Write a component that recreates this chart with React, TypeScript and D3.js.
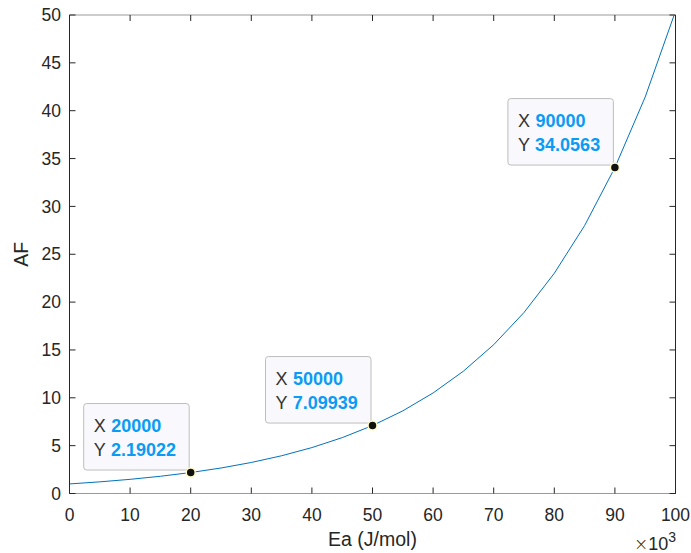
import React from "react";
import * as d3 from "d3";

const eaValues = [0, 5000, 10000, 15000, 20000, 25000, 30000, 35000, 40000, 45000, 50000, 55000, 60000, 65000, 70000, 75000, 80000, 85000, 90000, 95000, 100000];
const afValues = [1, 1.2165, 1.4799, 1.8004, 2.19022, 2.6645, 3.2414, 3.9433, 4.7971, 5.8359, 7.09939, 8.6367, 10.5068, 12.7818, 15.5495, 18.9158, 23.0118, 27.994, 34.0563, 41.43, 50.40];
const xTicks = [0, 10000, 20000, 30000, 40000, 50000, 60000, 70000, 80000, 90000, 100000];
const yTicks = [0, 5, 10, 15, 20, 25, 30, 35, 40, 45, 50];
const tipX = [20000, 50000, 90000];
const tipY = [2.19022, 7.09939, 34.0563];
const tipLabels = ["2.19022", "7.09939", "34.0563"];

const W = 691, H = 553;
const L = 69.5, R = 675.5, T = 15, B = 493.5;

export default function App() {
  const x = d3.scaleLinear().domain([0, 100000]).range([L, R]);
  const y = d3.scaleLinear().domain([0, 50]).range([B, T]);
  const line = d3.line<number>().x((_, i) => x(eaValues[i])).y((d) => y(d));
  const font = "Liberation Sans, Arial, Helvetica, sans-serif";
  const tc = "#262626";
  return (
    <svg width={W} height={H} style={{ position: "absolute", left: 0, top: 0 }} fontFamily={font}>
      <rect x={0} y={0} width={W} height={H} fill="#fff" />
      <defs>
        <clipPath id="pa"><rect x={L} y={T} width={R - L} height={B - T} /></clipPath>
      </defs>
      <path d={line(afValues) || ""} fill="none" stroke="#0072BD" strokeWidth={1} clipPath="url(#pa)" />
      <line x1={L} x2={R} y1={T} y2={T} stroke="#9a9a9a" strokeWidth={1.2} />
      <line x1={L} x2={R} y1={B} y2={B} stroke="#9a9a9a" strokeWidth={1.2} />
      <line x1={L} x2={L} y1={T} y2={B} stroke={tc} strokeWidth={1} />
      <line x1={R} x2={R} y1={T} y2={B} stroke={tc} strokeWidth={1} />
      {xTicks.map((t) => (
        <g key={"x" + t}>
          <line x1={x(t)} x2={x(t)} y1={B} y2={B - 6} stroke={tc} />
          <line x1={x(t)} x2={x(t)} y1={T} y2={T + 6} stroke={tc} />
          <text x={x(t)} y={520.5} textAnchor="middle" fontSize={17.5} fill={tc}>{t / 1000}</text>
        </g>
      ))}
      {yTicks.map((t) => (
        <g key={"y" + t}>
          <line x1={L} x2={L + 6} y1={y(t)} y2={y(t)} stroke={tc} />
          <line x1={R} x2={R - 6} y1={y(t)} y2={y(t)} stroke={tc} />
          <text x={61} y={y(t) + 6.2} textAnchor="end" fontSize={17.5} fill={tc}>{t}</text>
        </g>
      ))}
      <text x={372.5} y={546} textAnchor="middle" fontSize={19.5} fill={tc}>Ea (J/mol)</text>
      <text transform={`translate(28,${(T + B) / 2}) rotate(-90)`} textAnchor="middle" fontSize={19.5} fill={tc}>AF</text>
      <text x={676} y={550} fontSize={18} fill={tc} textAnchor="end">
        <tspan fontSize={17} fontFamily="DejaVu Sans" fontWeight={300}>×</tspan>
        <tspan>10</tspan>
        <tspan dy={-8.5} fontSize={14}>3</tspan>
      </text>
      {tipX.map((tx, i) => {
        const px = x(tx), py = y(tipY[i]);
        const bw = 105.5, bh = 66.5;
        const bx = px - 1.5 - bw, by = py - 2.5 - bh;
        return (
          <g key={"tip" + i}>
            <rect x={bx} y={by} width={bw} height={bh} rx={3} fill="#f9f9fd" stroke="#bdbdbd" strokeWidth={1} />
            <text x={bx + 10} y={by + 28.7} fontSize={18} fill="#333">X <tspan fill="#0a9bf5" fontWeight="bold" dx={0.5}>{tx}</tspan></text>
            <text x={bx + 10} y={by + 52.5} fontSize={18} fill="#333">Y <tspan fill="#0a9bf5" fontWeight="bold" dx={0.5}>{tipLabels[i]}</tspan></text>
            <circle cx={px} cy={py} r={4.5} fill="#111" stroke="#fffbc8" strokeWidth={1.5} />
          </g>
        );
      })}
    </svg>
  );
}
